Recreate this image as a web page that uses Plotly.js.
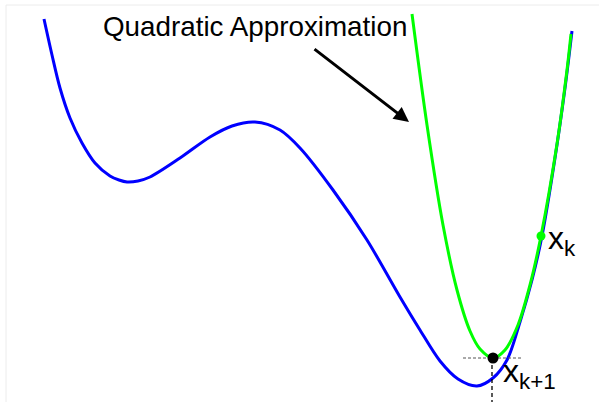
<!DOCTYPE html>
<html>
<head>
<meta charset="utf-8">
<script src="https://cdn.plot.ly/plotly-3.0.1.min.js"></script>
<style>html,body{margin:0;padding:0;background:#fff;}#chart{width:599px;height:402px;}</style>
</head>
<body>
<div id="chart"></div>
<script>
// Objective function f(x) (blue)
const fX = [0.44, 0.52, 0.60, 0.70, 0.82, 0.95, 1.10, 1.19, 1.27, 1.38, 1.50, 1.80, 2.10, 2.32, 2.55, 2.80, 3.00, 3.33, 3.67, 4.00, 4.20, 4.40, 4.58, 4.77, 4.93, 5.07, 5.20, 5.32, 5.42, 5.55, 5.65, 5.72];
const fY = [3.83, 3.47, 3.14, 2.84, 2.59, 2.39, 2.26, 2.22, 2.20, 2.21, 2.25, 2.44, 2.65, 2.76, 2.80, 2.72, 2.54, 2.12, 1.62, 1.05, 0.72, 0.41, 0.23, 0.16, 0.24, 0.42, 0.80, 1.22, 1.66, 2.44, 3.14, 3.71];
// Quadratic approximation (green)
const qX = [4.12, 4.27, 4.43, 4.57, 4.70, 4.80, 4.93, 5.05, 5.18, 5.30, 5.41, 5.57, 5.67, 5.71];
const qY = [3.88, 2.77, 1.77, 1.12, 0.71, 0.53, 0.44, 0.52, 0.77, 1.17, 1.66, 2.58, 3.32, 3.68];
// Iterates
const xk = [5.41, 1.66];
const xk1 = [4.93, 0.44];
const labels = {title: 'Quadratic Approximation', xk: 'x<sub>k</sub>', xk1: 'x<sub>k+1</sub>'};
const arrowTail = [3.13, 3.54];
const arrowTip = [4.09, 2.80];

const traces = [
  {x: fX, y: fY, mode: 'lines', line: {color: '#0000ff', width: 3, shape: 'spline', smoothing: 0.9}, hoverinfo: 'skip'},
  {x: qX, y: qY, mode: 'lines', line: {color: '#00ff00', width: 3, shape: 'spline', smoothing: 0.9}, hoverinfo: 'skip'},
  {x: [xk1[0] - 0.30, xk1[0] + 0.30], y: [xk1[1], xk1[1]], mode: 'lines', line: {color: '#555', width: 1, dash: '3px,2px'}, hoverinfo: 'skip'},
  {x: [xk1[0] - 0.01, xk1[0] - 0.01], y: [xk1[1], -0.1], mode: 'lines', line: {color: '#000', width: 1.3, dash: '4px,3px'}, hoverinfo: 'skip'},
  {x: [xk[0]], y: [xk[1]], mode: 'markers', marker: {color: '#00ff00', size: 9}, hoverinfo: 'skip'},
  {x: [xk1[0]], y: [xk1[1]], mode: 'markers', marker: {color: '#000', size: 11}, hoverinfo: 'skip'}
];

const layout = {
  width: 599, height: 402,
  margin: {l: 0, r: 0, t: 0, b: 0},
  paper_bgcolor: '#fff', plot_bgcolor: '#fff',
  showlegend: false,
  xaxis: {range: [0, 5.99], visible: false, fixedrange: true},
  yaxis: {range: [0, 4.02], visible: false, fixedrange: true},
  font: {family: 'Liberation Sans, Arial, sans-serif', color: '#000'},
  shapes: [
    {type: 'rect', xref: 'paper', yref: 'paper', x0: 6/599, x1: 1.02, y0: -0.02, y1: 1 - 5/402, line: {color: '#ececec', width: 1}}
  ],
  annotations: [
    {x: 2.55, y: 3.76, text: labels.title, showarrow: false, font: {size: 27.8, color: '#000'}, xanchor: 'center', yanchor: 'middle'},
    {x: arrowTip[0], y: arrowTip[1], ax: arrowTail[0], ay: arrowTail[1], axref: 'x', ayref: 'y', text: '', showarrow: true, arrowhead: 2, arrowsize: 1, arrowwidth: 3, arrowcolor: '#000'},
    {x: 5.46, y: 1.62, text: labels.xk, showarrow: false, font: {size: 32, color: '#000'}, xanchor: 'left', yanchor: 'middle'},
    {x: 5.01, y: 0.29, text: labels.xk1, showarrow: false, font: {size: 32, color: '#000'}, xanchor: 'left', yanchor: 'middle'}
  ]
};

Plotly.newPlot('chart', traces, layout, {staticPlot: true, displayModeBar: false});
</script>
</body>
</html>
